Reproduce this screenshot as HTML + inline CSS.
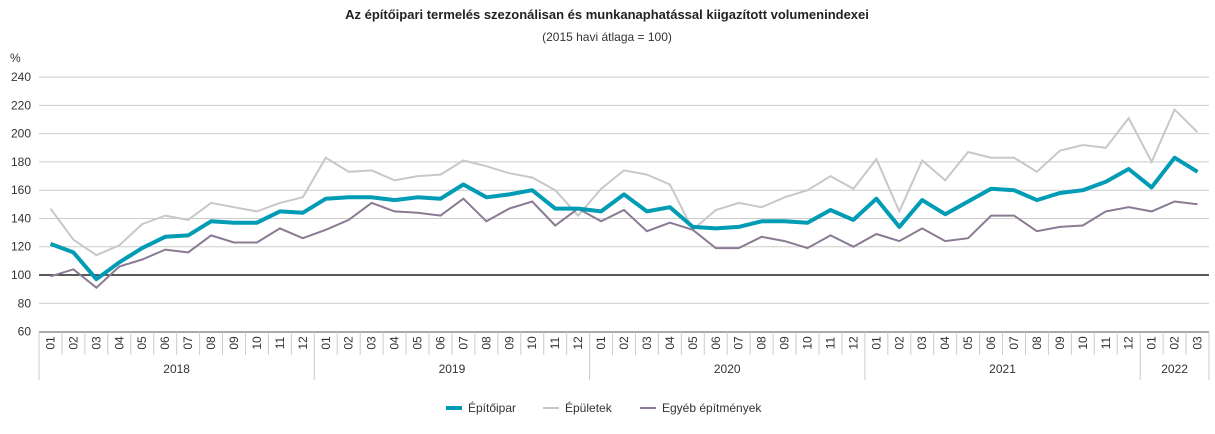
<!DOCTYPE html><html><head><meta charset="utf-8"><style>body{margin:0;background:#fff}svg{font-family:"Liberation Sans",sans-serif}</style></head><body>
<svg width="1215" height="429" xmlns="http://www.w3.org/2000/svg" id="s">
<text x="607" y="19" text-anchor="middle" font-size="13" font-weight="bold" fill="#222">Az építőipari termelés szezonálisan és munkanaphatással kiigazított volumenindexei</text>
<text x="607" y="41" text-anchor="middle" font-size="12" fill="#333">(2015 havi átlaga = 100)</text>
<text x="10" y="62" font-size="12" fill="#333">%</text>
<g id="g"></g>
</svg>
<script>
const s=document.getElementById('g');let h='';
const X0=39,X1=1209,st=(X1-X0)/51,y=v=>275-(v-100)*1.4135;
for(let v=60;v<=240;v+=20){const yy=y(v);if(v!=60)h+=`<line x1="${X0}" x2="${X1}" y1="${yy}" y2="${yy}" stroke="#ccc" stroke-width="1"/>`;h+=`<text x="31" y="${yy+4}" text-anchor="end" font-size="12" fill="#333">${v}</text>`;}
const A=[122,116,97,109,119,127,128,138,137,137,145,144,154,155,155,153,155,154,164,155,157,160,147,147,145,157,145,148,134,133,134,138,138,137,146,139,154,134,153,143,152,161,160,153,158,160,166,175,162,183,173];
const B=[147,125,114,121,136,142,139,151,148,145,151,155,183,173,174,167,170,171,181,177,172,169,160,142,161,174,171,164,132,146,151,148,155,160,170,161,182,145,181,167,187,183,183,173,188,192,190,211,180,217,201];
const C=[99,104,91,106,111,118,116,128,123,123,133,126,132,139,151,145,144,142,154,138,147,152,135,147,138,146,131,137,132,119,119,127,124,119,128,120,129,124,133,124,126,142,142,131,134,135,145,148,145,152,150];
const pts=a=>a.map((v,i)=>`${(X0+st*(i+.5)).toFixed(1)},${y(v).toFixed(1)}`).join(' ');
h+=`<line x1="${X0}" x2="${X1}" y1="${y(100)}" y2="${y(100)}" stroke="#222" stroke-width="1.5"/>`;
h+=`<polyline points="${pts(B)}" fill="none" stroke="#c8c8c8" stroke-width="2"/>`;
h+=`<polyline points="${pts(C)}" fill="none" stroke="#8a7a93" stroke-width="2"/>`;
h+=`<polyline points="${pts(A)}" fill="none" stroke="#009bb4" stroke-width="4" stroke-linejoin="round"/>`;
h+=`<line x1="${X0}" x2="${X1}" y1="332" y2="332" stroke="#555" stroke-width="1"/>`;
for(let i=0;i<=51;i++){const x=X0+st*i;const yr=i%12==0||i==51;h+=`<line x1="${x}" x2="${x}" y1="332" y2="${yr?380:355}" stroke="#ccc"/>`;if(i<51){const m=String(i%12+1).padStart(2,'0');const cx=x+st/2;h+=`<text transform="translate(${cx+4},343) rotate(-90)" text-anchor="middle" font-size="12" fill="#333">${m}</text>`;}}
const yrs=[[0,12,'2018'],[12,24,'2019'],[24,36,'2020'],[36,48,'2021'],[48,51,'2022']];
yrs.forEach(([a,b,t])=>{h+=`<text x="${X0+st*(a+b)/2}" y="373" text-anchor="middle" font-size="12" fill="#333">${t}</text>`});
const L=[[446,'#009bb4',4,'Építőipar'],[543,'#c8c8c8',2,'Épületek'],[640,'#8a7a93',2,'Egyéb építmények']];
L.forEach(([x,c,w,t])=>{h+=`<line x1="${x}" x2="${x+16}" y1="408" y2="408" stroke="${c}" stroke-width="${w}"/><text x="${x+22}" y="412" font-size="12" fill="#333">${t}</text>`});
s.innerHTML=h;
</script>
</body></html>
